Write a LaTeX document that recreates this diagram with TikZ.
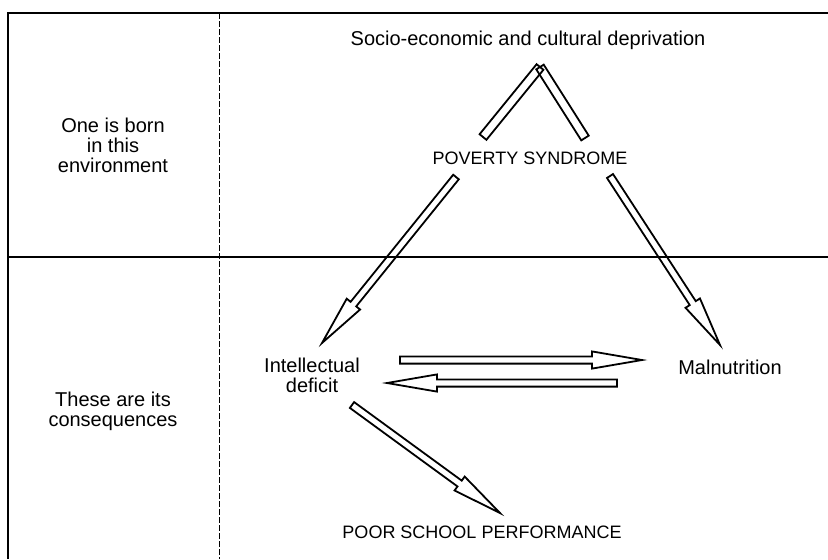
\documentclass[tikz,border=0pt]{standalone}
\usepackage{fontspec}
\setmainfont{Liberation Sans}
\usetikzlibrary{calc}

\tikzset{
	lbl/.style={font=\fontsize{10}{10}\selectfont, align=center, inner sep=0pt},
	caps/.style={font=\fontsize{9}{9}\selectfont, inner sep=0pt},
	fatline/.style={line width=0.9pt, line join=miter},
	frameline/.style={line width=1pt},
}

% hollow arrow from #1 to #2
\newcommand{\fatarrow}[2]{%
	\coordinate (fa-s) at ($(#2)!25pt!(#1)$);
	\draw[fatline] ($(#1)!1.8pt!90:(#2)$) -- ($(fa-s)!1.8pt!90:(#2)$) -- ($(fa-s)!4.3pt!90:(#2)$) -- (#2)
		-- ($(fa-s)!4.3pt!-90:(#2)$) -- ($(fa-s)!1.8pt!-90:(#2)$) -- ($(#1)!1.8pt!-90:(#2)$) -- cycle;
}
% hollow bar from #1 to #2
\newcommand{\fatbar}[2]{%
	\draw[fatline] ($(#1)!2.2pt!90:(#2)$) -- ($(#2)!2.2pt!-90:(#1)$) -- ($(#2)!2.2pt!90:(#1)$) -- ($(#1)!2.2pt!-90:(#2)$) -- cycle;
}

\begin{document}
\begin{tikzpicture}[x=0.5pt, y=-0.5pt]

	\useasboundingbox (0,0) rectangle (828,559);

	\coordinate (tl) at (8,13);
	\coordinate (tr) at (828,13);
	\coordinate (bl) at (8,559);
	\coordinate (ml) at (8,257);
	\coordinate (mr) at (828,257);
	\coordinate (dt) at (219,13);
	\coordinate (db) at (219,559);
	\draw[frameline] (bl) -- (tl) -- (tr);
	\draw[line width=0.9pt] (ml) -- (mr);
	\draw[line width=0.35pt, dash pattern=on 3pt off 1pt] (dt) -- (db);

	\node[lbl] (born) at (113,145) {One is born\\in this\\environment};
	\node[lbl] (cons) at (113,411) {These are its\\consequences};

	\node[lbl] (socio) at (528,40) {Socio-economic and cultural deprivation};
	\node[caps] (pov) at (530,158) {POVERTY SYNDROME};
	\node[lbl] (intel) at (312,375) {Intellectual\\deficit};
	\node[lbl] (maln) at (730,367) {Malnutrition};
	\node[caps] (poor) at (482,532) {POOR SCHOOL PERFORMANCE};

	\coordinate (apex) at (540,67);
	\coordinate (povl) at (483,137);
	\coordinate (povr) at (585,138);
	\fatbar{povl}{apex}
	\fatbar{povr}{apex}

	\coordinate (p1) at (456,177);
	\coordinate (i1) at (322,343);
	\coordinate (p2) at (610,176);
	\coordinate (m1) at (720,345);
	\coordinate (i2) at (400,360);
	\coordinate (m2) at (642,360);
	\coordinate (m3) at (617,383);
	\coordinate (i3) at (387,383);
	\coordinate (i4) at (352,405);
	\coordinate (s1) at (500,513);
	\fatarrow{p1}{i1}
	\fatarrow{p2}{m1}
	\fatarrow{i2}{m2}
	\fatarrow{m3}{i3}
	\fatarrow{i4}{s1}

\end{tikzpicture}
\end{document}
